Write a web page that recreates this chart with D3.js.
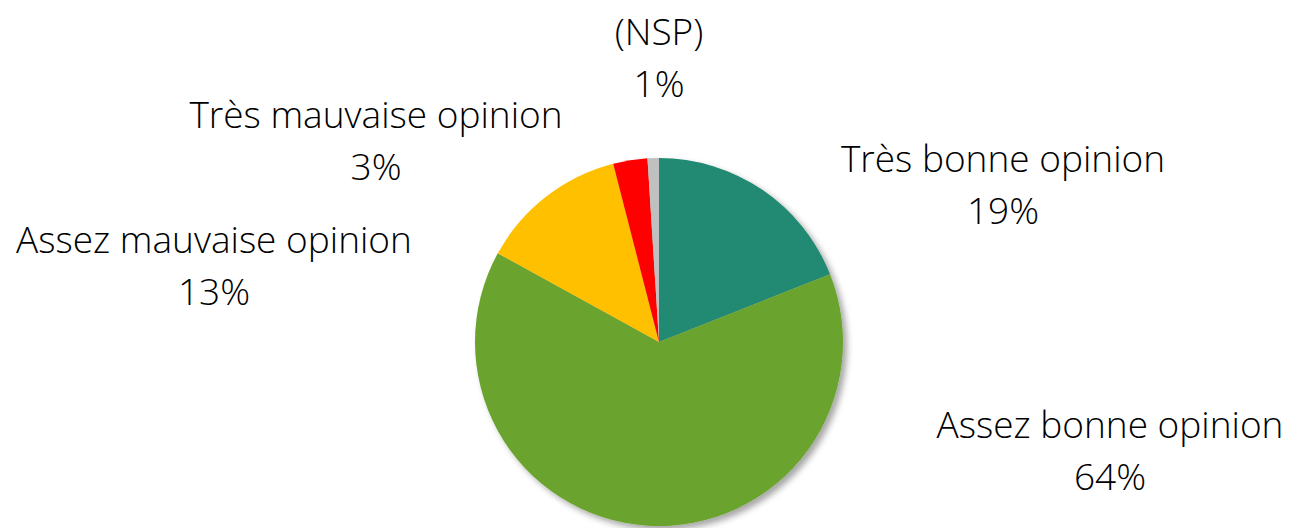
<!DOCTYPE html>
<html>
<head>
<meta charset="utf-8">
<script src="https://cdn.jsdelivr.net/npm/d3@7"></script>
<style>
  body { margin: 0; background: #fff; }
  text { font-family: "Open Sans", sans-serif; font-weight: 300; fill: #000; }
</style>
</head>
<body>
<div id="container"></div>
<script>
const categories = ["Très bonne opinion", "Assez bonne opinion", "Assez mauvaise opinion", "Très mauvaise opinion", "(NSP)"];
const values = [19, 64, 13, 3, 1];
const colors = ["#248a72", "#6ba32f", "#ffc000", "#ff0000", "#c0c0c0"];

// label offsets from the pie centre (Excel "best fit" placement)
const labelOffsets = [[344, -157], [451, 109], [-445, -76], [-283, -201], [0, -284]];

const w = 1289;
const h = 528;
const cx = 659, cy = 342, r = 184;

const svg = d3.select("#container")
              .append("svg")
              .attr("width", w)
              .attr("height", h);

const defs = svg.append("defs");
const filter = defs.append("filter")
                   .attr("id", "shadow")
                   .attr("x", "-20%").attr("y", "-20%")
                   .attr("width", "140%").attr("height", "140%");
filter.append("feGaussianBlur").attr("in", "SourceAlpha").attr("stdDeviation", 3);
filter.append("feOffset").attr("dx", 4).attr("dy", 4).attr("result", "blur");
filter.append("feFlood").attr("flood-color", "#000").attr("flood-opacity", 0.35);
filter.append("feComposite").attr("in2", "blur").attr("operator", "in");
const merge = filter.append("feMerge");
merge.append("feMergeNode");
merge.append("feMergeNode").attr("in", "SourceGraphic");

const data = categories.map((c, i) => ({ name: c, value: values[i], color: colors[i] }));

const pie = d3.pie().value(d => d.value).sort(null);
const arc = d3.arc().innerRadius(0).outerRadius(r);

const g = svg.append("g")
             .attr("transform", `translate(${cx},${cy})`)
             .attr("filter", "url(#shadow)");

g.selectAll("path")
 .data(pie(data))
 .enter()
 .append("path")
 .attr("d", arc)
 .attr("fill", d => d.data.color);

const labels = svg.append("g")
                  .selectAll("text")
                  .data(data)
                  .enter()
                  .append("text")
                  .attr("text-anchor", "middle")
                  .style("font-size", "37px")
                  .attr("transform", (d, i) => `translate(${cx + labelOffsets[i][0]},${cy + labelOffsets[i][1]})`);

labels.append("tspan").attr("x", 0).attr("y", -13).text(d => d.name);
labels.append("tspan").attr("x", 0).attr("y", 39).text(d => d.value + "%");
</script>
</body>
</html>
